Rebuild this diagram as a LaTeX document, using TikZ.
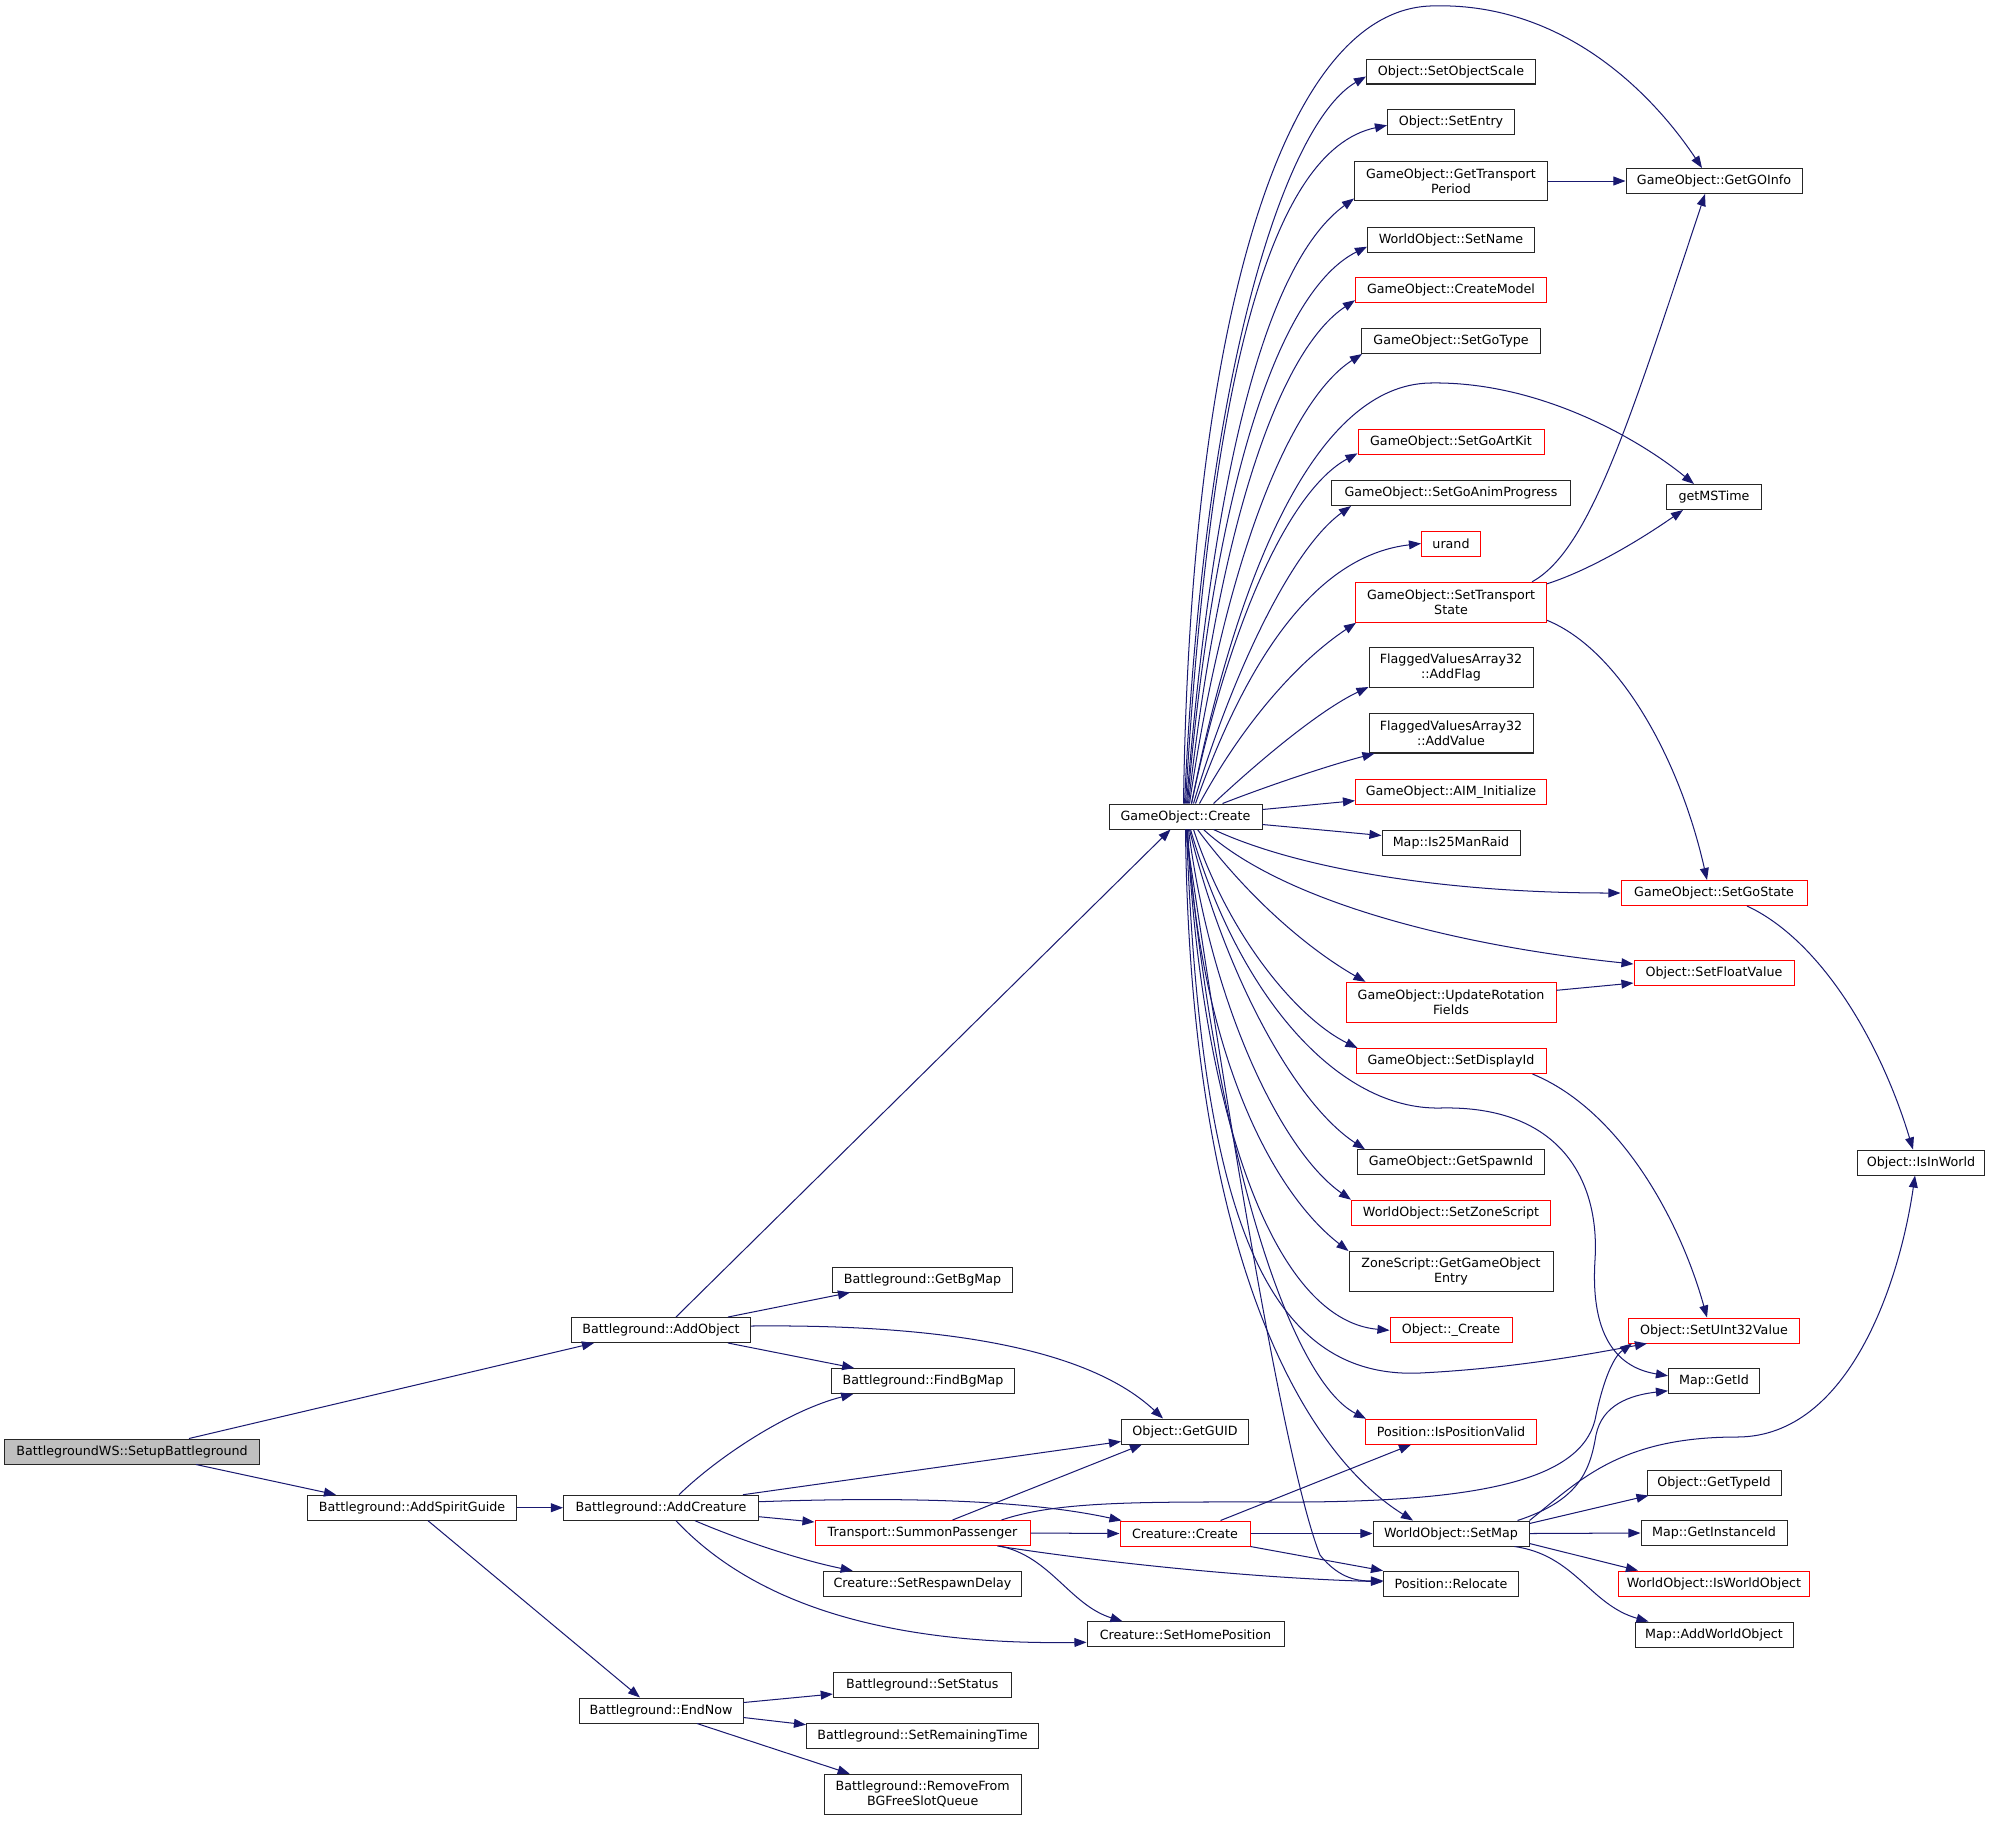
\documentclass[tikz,border=0pt]{standalone}
\usepackage{fontspec}
\setmainfont{DejaVu Sans}
\usetikzlibrary{calc,arrows.meta}
\definecolor{edgec}{HTML}{191970}
\definecolor{grayfill}{HTML}{BFBFBF}
\begin{document}
\begin{tikzpicture}[x=0.7883pt,y=-0.7883pt,
  nbox/.style={draw=black!85, line width=0.8pt, fill=white, inner sep=0pt,
    minimum height=19.7pt, font=\fontsize{10}{11.6}\selectfont, align=center},
  tall/.style={minimum height=31.5pt},
  redbox/.style={draw=red},
  bw/.style={minimum width=#1*0.7883pt},
  conn/.style={draw=edgec, line width=0.8pt, -{Triangle[length=9.5pt,width=7pt]}}]
\useasboundingbox (0,0) rectangle (1989,1820);
% column 0-3
\node[nbox,bw=255,fill=grayfill] (sb) at (132,1451.5) {BattlegroundWS::SetupBattleground};
\node[nbox,bw=208.5] (asg) at (412,1507.7) {Battleground::AddSpiritGuide};
\node[nbox,bw=179] (aob) at (661,1330) {Battleground::AddObject};
\node[nbox,bw=195] (acr) at (661,1507.7) {Battleground::AddCreature};
\node[nbox,bw=164] (endn) at (661,1710.5) {Battleground::EndNow};
\node[nbox,bw=180] (gbm) at (922.5,1279.5) {Battleground::GetBgMap};
\node[nbox,bw=182.6] (fbm) at (923,1381) {Battleground::FindBgMap};
\node[nbox,bw=215,redbox] (sp) at (922.5,1533) {Transport::SummonPassenger};
\node[nbox,bw=198.6] (srd) at (922.5,1583.7) {Creature::SetRespawnDelay};
\node[nbox,bw=178] (sst) at (922.3,1685) {Battleground::SetStatus};
\node[nbox,bw=232] (srt) at (922.5,1735.7) {Battleground::SetRemainingTime};
\node[nbox,bw=197,tall] (rem) at (922.7,1794.2) {Battleground::RemoveFrom\\BGFreeSlotQueue};
% column 4
\node[nbox,bw=153] (goc) at (1185.5,816.5) {GameObject::Create};
\node[nbox,bw=127] (guid) at (1185,1431.5) {Object::GetGUID};
\node[nbox,bw=130,redbox] (ccr) at (1185,1533.5) {Creature::Create};
\node[nbox,bw=197] (shp) at (1185.5,1634.3) {Creature::SetHomePosition};
% column 5
\node[nbox,bw=169] (sos) at (1451,71.5) {Object::SetObjectScale};
\node[nbox,bw=127] (sen) at (1451,122.3) {Object::SetEntry};
\node[nbox,bw=193,tall] (gtp) at (1451,181) {GameObject::GetTransport\\Period};
\node[nbox,bw=167] (sna) at (1451,239.7) {WorldObject::SetName};
\node[nbox,bw=191,redbox] (cmo) at (1451,290.2) {GameObject::CreateModel};
\node[nbox,bw=179] (sgt) at (1451,341) {GameObject::SetGoType};
\node[nbox,bw=186,redbox] (sgak) at (1451,442.3) {GameObject::SetGoArtKit};
\node[nbox,bw=239] (sgap) at (1451,493) {GameObject::SetGoAnimProgress};
\node[nbox,bw=59,redbox] (urand) at (1451,543.5) {urand};
\node[nbox,bw=191,tall,redbox] (sts) at (1451,602.3) {GameObject::SetTransport\\State};
\node[nbox,bw=164,tall] (af) at (1451,667.5) {FlaggedValuesArray32\\::AddFlag};
\node[nbox,bw=164,tall] (av) at (1451,733) {FlaggedValuesArray32\\::AddValue};
\node[nbox,bw=191,redbox] (aim) at (1451,791.7) {GameObject::AIM\_Initialize};
\node[nbox,bw=138] (is25) at (1451,842.5) {Map::Is25ManRaid};
\node[nbox,bw=210,tall,redbox] (urf) at (1451,1002.3) {GameObject::UpdateRotation\\Fields};
\node[nbox,bw=190,redbox] (sdi) at (1451,1061) {GameObject::SetDisplayId};
\node[nbox,bw=187] (gsi) at (1451,1162.3) {GameObject::GetSpawnId};
\node[nbox,bw=199,redbox] (szs) at (1451,1212.7) {WorldObject::SetZoneScript};
\node[nbox,bw=204,tall] (zgo) at (1451,1271.5) {ZoneScript::GetGameObject\\Entry};
\node[nbox,bw=122,redbox] (ocr) at (1451,1330.3) {Object::\_Create};
\node[nbox,bw=171,redbox] (ipv) at (1451,1431.7) {Position::IsPositionValid};
\node[nbox,bw=156] (wsm) at (1451,1533.5) {WorldObject::SetMap};
\node[nbox,bw=135] (rel) at (1451,1583.7) {Position::Relocate};
% column 6
\node[nbox,bw=176] (ggi) at (1714,181) {GameObject::GetGOInfo};
\node[nbox,bw=95] (gms) at (1714,497) {getMSTime};
\node[nbox,bw=186,redbox] (sgs) at (1714,893) {GameObject::SetGoState};
\node[nbox,bw=160,redbox] (sfv) at (1714,973) {Object::SetFloatValue};
\node[nbox,bw=171,redbox] (sui) at (1714,1330.5) {Object::SetUInt32Value};
\node[nbox,bw=91] (mgi) at (1714,1380.8) {Map::GetId};
\node[nbox,bw=134] (gti) at (1714,1482.5) {Object::GetTypeId};
\node[nbox,bw=146] (mgii) at (1714,1533) {Map::GetInstanceId};
\node[nbox,bw=191,redbox] (iwo) at (1714,1583.5) {WorldObject::IsWorldObject};
\node[nbox,bw=158] (awo) at (1714,1634.5) {Map::AddWorldObject};
% column 7
\node[nbox,bw=127] (iiw) at (1921,1162.5) {Object::IsInWorld};

% ---- edges, left part
\draw[conn] ($(sb.north)+(57,0)$) -- ($(aob.south)+(-67,0)$);
\draw[conn] ($(sb.south)+(64,0)$) -- ($(asg.north)+(-76,0)$);
\draw[conn] (asg.east) -- (acr.west);
\draw[conn] ($(asg.south)+(16,0)$) -- ($(endn.north)+(-21,0)$);
\draw[conn] ($(aob.north)+(15,0)$) -- ($(goc.south)+(-15,0)$);
\draw[conn] ($(aob.north east)+(-23,0)$) -- ($(gbm.south west)+(18,0)$);
\draw[conn] ($(aob.south east)+(-23,0)$) -- ($(fbm.north west)+(23,0)$);
\draw[conn] ($(aob.east)+(0,-4)$) .. controls (950,1324) and (1090,1350) .. ($(guid.north)+(-22,0)$);
\draw[conn] ($(acr.north)+(18,0)$) .. controls (720,1455) and (790,1410) .. ($(fbm.south west)+(22,0)$);
\draw[conn] ($(acr.north east)+(-16,0)$) -- ($(guid.west)+(0,10)$);
\draw[conn] ($(acr.east)+(0,-6)$) .. controls (950,1495) and (1050,1505) .. ($(ccr.north west)+(2,0)$);
\draw[conn] ($(acr.east)+(0,9)$) -- ($(sp.west)+(0,-11)$);
\draw[conn] ($(acr.south)+(34,0)$) .. controls (740,1540) and (800,1560) .. ($(srd.north west)+(30,0)$);
\draw[conn] ($(acr.south)+(15,0)$) .. controls (760,1610) and (900,1645) .. ($(shp.west)+(0,8)$);
\draw[conn] ($(endn.east)+(0,-8)$) -- ($(sst.west)+(0,9)$);
\draw[conn] ($(endn.east)+(0,7)$) -- ($(srt.west)+(0,-11)$);
\draw[conn] ($(endn.south)+(36,0)$) -- ($(rem.north west)+(26,0)$);
\draw[conn] ($(sp.north)+(30,0)$) -- ($(guid.south)+(-43,0)$);
\draw[conn] (sp.east) -- (ccr.west);
\draw[conn] ($(sp.north east)+(-29,0)$) .. controls (1060,1500) and (1150,1502) .. (1300,1502)
   .. controls (1480,1501) and (1580,1480) .. (1595,1420)
   .. controls (1602,1385) and (1612,1358) .. ($(sui.south west)+(4,0)$);
\draw[conn] ($(sp.south east)+(-33,0)$) .. controls (1100,1562) and (1250,1578) .. ($(rel.west)+(0,-2)$);
\draw[conn] ($(sp.south east)+(-31,0)$) .. controls (1050,1556) and (1070,1605) .. ($(shp.north)+(-63,0)$);
\draw[conn] ($(ccr.north east)+(-30,0)$) -- ($(ipv.south)+(-40,0)$);
\draw[conn] (ccr.east) -- (wsm.west);
\draw[conn] (ccr.south east) -- ($(rel.west)+(0,-13)$);

% ---- GameObject::Create upward
\draw[conn] ($(goc.north)+(-2,0)$) .. controls (1190,330) and (1280,12) .. (1430,6)
   .. controls (1560,1) and (1650,90) .. ($(ggi.north)+(-12,0)$);
\draw[conn] ($(goc.north)+(-1,0)$) .. controls (1205,350) and (1290,120) .. ($(sos.west)+(0,5)$);
\draw[conn] ($(goc.north)+(0,0)$) .. controls (1210,380) and (1270,150) .. ($(sen.west)+(0,3)$);
\draw[conn] ($(goc.north)+(1,0)$) .. controls (1215,450) and (1270,260) .. ($(gtp.south west)+(0,-3)$);
\draw[conn] ($(goc.north)+(2,0)$) .. controls (1215,480) and (1280,290) .. ($(sna.west)+(0,7)$);
\draw[conn] ($(goc.north)+(3,0)$) .. controls (1220,520) and (1280,350) .. ($(cmo.south west)+(0,-3)$);
\draw[conn] ($(goc.north)+(4,0)$) .. controls (1225,560) and (1290,400) .. ($(sgt.south west)+(1,0)$);
\draw[conn] ($(goc.north)+(6,0)$) .. controls (1240,560) and (1320,385) .. (1430,383)
   .. controls (1540,381) and (1640,440) .. ($(gms.north)+(-20,0)$);
\draw[conn] ($(goc.north)+(6,0)$) .. controls (1230,620) and (1290,490) .. ($(sgak.south west)+(0,-2)$);
\draw[conn] ($(goc.north)+(8,0)$) .. controls (1230,680) and (1290,550) .. ($(sgap.south)+(-100,0)$);
\draw[conn] ($(goc.north)+(10,0)$) .. controls (1250,650) and (1320,555) .. (urand.west);
\draw[conn] ($(goc.north)+(14,0)$) .. controls (1245,720) and (1300,660) .. ($(sts.south west)+(1,0)$);
\draw[conn] ($(goc.north)+(28,0)$) .. controls (1260,760) and (1320,710) .. ($(af.south west)+(0,-1)$);
\draw[conn] ($(goc.north)+(37,0)$) .. controls (1270,785) and (1330,765) .. ($(av.south west)+(6,0)$);
% sideways
\draw[conn] ($(goc.east)+(0,-7)$) -- ($(aim.west)+(0,9)$);
\draw[conn] ($(goc.east)+(0,8)$) -- ($(is25.west)+(0,-7)$);
% downward
\draw[conn] ($(goc.south)+(28,0)$) .. controls (1300,870) and (1450,893) .. (sgs.west);
\draw[conn] ($(goc.south)+(18,0)$) .. controls (1280,900) and (1450,945) .. ($(sfv.west)+(0,-9)$);
\draw[conn] ($(goc.south)+(12,0)$) .. controls (1250,900) and (1310,950) .. ($(urf.north west)+(20,0)$);
\draw[conn] ($(goc.south)+(8,0)$) .. controls (1230,940) and (1300,1020) .. ($(sdi.north west)+(2,0)$);
\draw[conn] ($(goc.south)+(5,0)$) .. controls (1240,1000) and (1340,1110) .. (1440,1108)
   .. controls (1560,1105) and (1600,1180) .. (1595,1260)
   .. controls (1590,1340) and (1620,1368) .. ($(mgi.west)+(0,-5)$);
\draw[conn] ($(goc.south)+(4,0)$) .. controls (1220,960) and (1290,1100) .. ($(gsi.north west)+(8,0)$);
\draw[conn] ($(goc.south)+(3,0)$) .. controls (1210,1000) and (1280,1150) .. (szs.north west);
\draw[conn] ($(goc.south)+(2,0)$) .. controls (1200,1050) and (1270,1190) .. (zgo.north west);
\draw[conn] ($(goc.south)+(2,0)$) .. controls (1200,1100) and (1270,1320) .. (ocr.west);
\draw[conn] ($(goc.south)+(1,0)$) .. controls (1200,1200) and (1260,1380) .. (1420,1373)
   .. controls (1520,1368) and (1600,1352) .. ($(sui.south west)+(19,0)$);
\draw[conn] ($(goc.south)+(1,0)$) .. controls (1215,1150) and (1290,1380) .. ($(ipv.north west)+(1,0)$);
\draw[conn] ($(goc.south)+(0,0)$) .. controls (1190,1250) and (1300,1450) .. ($(wsm.north)+(-38,0)$);
\draw[conn] ($(goc.south)+(0,0)$) .. controls (1240,1200) and (1290,1480) .. (1320,1555)
   .. controls (1340,1580) and (1360,1581) .. ($(rel.west)+(0,-3)$);

% ---- right part
\draw[conn] (gtp.east) -- (ggi.west);
\draw[conn] ($(sts.north east)+(-15,0)$) .. controls (1590,550) and (1630,420) .. ($(ggi.south)+(-9,0)$);
\draw[conn] ($(sts.north east)+(0,2)$) .. controls (1590,570) and (1640,540) .. ($(gms.south)+(-31,0)$);
\draw[conn] ($(sts.east)+(0,18)$) .. controls (1620,650) and (1680,760) .. ($(sgs.north)+(-7,0)$);
\draw[conn] ($(urf.east)+(0,-12)$) -- ($(sfv.west)+(0,10)$);
\draw[conn] ($(sdi.south east)+(-14,0)$) .. controls (1620,1110) and (1680,1220) .. ($(sui.north)+(-7,0)$);
\draw[conn] ($(sgs.south)+(33,0)$) .. controls (1820,940) and (1880,1040) .. ($(iiw.north)+(-8,0)$);
\draw[conn] ($(wsm.north east)+(-12,0)$) .. controls (1580,1500) and (1590,1470) .. (1596,1435)
   .. controls (1602,1405) and (1630,1395) .. ($(mgi.west)+(0,10)$);
\draw[conn] (wsm.north east) .. controls (1580,1480) and (1620,1437) .. (1737,1437)
   .. controls (1850,1437) and (1900,1280) .. ($(iiw.south)+(-6,0)$);
\draw[conn] ($(wsm.east)+(0,-10)$) -- ($(gti.south west)+(2,0)$);
\draw[conn] (wsm.east) -- (mgii.west);
\draw[conn] ($(wsm.east)+(0,10)$) -- ($(iwo.north west)+(20,0)$);
\draw[conn] ($(wsm.south east)+(-15,0)$) .. controls (1575,1555) and (1590,1605) .. ($(awo.north west)+(14,0)$);
\end{tikzpicture}
\end{document}
